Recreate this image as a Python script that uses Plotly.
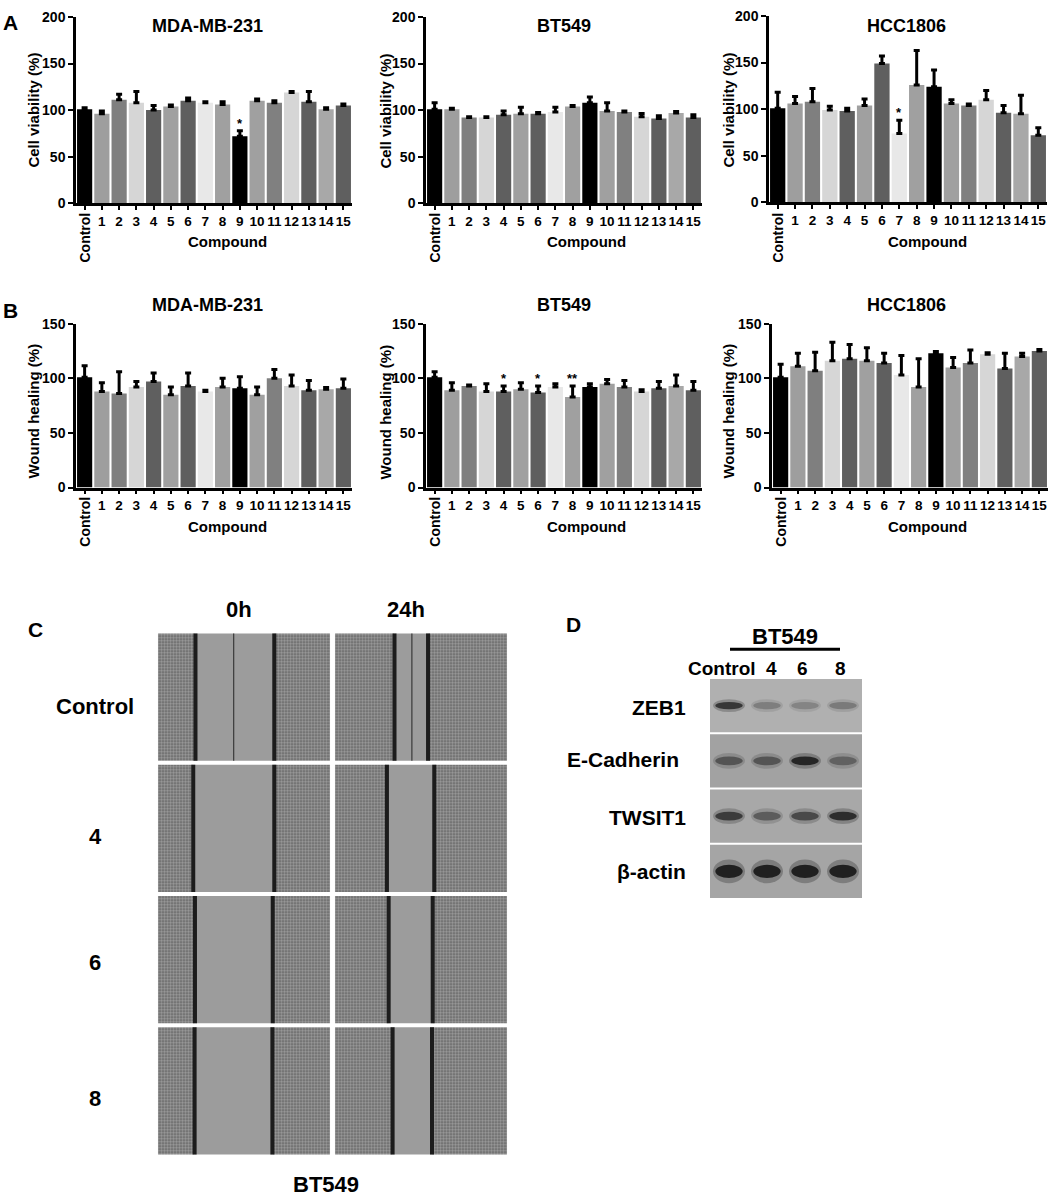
import plotly.graph_objects as go

# ------------------ Data ------------------

compounds = ["Control", "1", "2", "3", "4", "5", "6", "7", "8", "9",
             "10", "11", "12", "13", "14", "15"]
cell_lines = ["MDA-MB-231", "BT549", "HCC1806"]

# panel A: cell viability (%)
via_mda = [101, 96, 111, 108, 100, 104, 110, 108, 106, 72, 110, 108, 119, 109, 101, 105]
via_mda_err = [1.5, 3, 6, 12, 5, 1.5, 3, 1, 3, 6, 2, 2, 1, 11, 1.5, 1.5]
via_bt = [101, 101, 92, 92, 95, 96, 96, 98, 104, 108, 99, 98, 93, 91, 97, 92]
via_bt_err = [7, 1, 1, 1, 4, 7, 1.5, 5, 1, 6, 9, 1, 3.5, 3, 1.5, 3]
via_hcc = [101, 106, 108, 99, 98, 104, 149, 74, 126, 124, 106, 104, 110, 96, 95, 72]
via_hcc_err = [17, 7.5, 14, 4, 3, 7, 8, 14, 37, 18, 4, 1.5, 10, 8, 20, 8]

# panel B: wound healing (%)
wound_mda = [101, 88, 86, 92, 97, 85, 93, 88, 92, 91, 85, 100, 93, 89, 90, 91]
wound_mda_err = [10.5, 8, 20, 5, 8, 7, 12, 1, 8, 10.5, 7, 8, 10, 9, 1.5, 8.5]
wound_bt = [101, 89, 93, 88, 88, 90, 87, 92, 83, 92, 95, 92, 88, 91, 93, 89]
wound_bt_err = [5, 7, 1, 7, 5, 6, 6, 3, 10, 3, 4, 6, 1.5, 6, 10, 8]
wound_hcc = [101, 111, 107, 116, 118, 116, 114, 103, 92, 123, 110, 114, 122, 109, 120, 125]
wound_hcc_err = [12, 12, 17, 17, 13, 12, 9, 18, 26, 1.5, 9, 12, 1.5, 14, 3, 1.5]

# significance marks: (chart, compound index, mark)
stars = [(0, 9, "*"), (2, 7, "*"), (4, 4, "*"), (4, 6, "*"), (4, 8, "**")]

# panel C: scratch edges as fraction of image width
scratch_rows = ["Control", "4", "6", "8"]
scratch_times = ["0h", "24h"]
edge_left_0h = [0.218, 0.205, 0.215, 0.213]
edge_right_0h = [0.676, 0.676, 0.667, 0.665]
edge_left_24h = [0.346, 0.302, 0.312, 0.335]
edge_right_24h = [0.541, 0.577, 0.568, 0.564]
mark_0h = [0.44, None, None, None]
mark_24h = [0.447, None, None, None]

# panel D: western blot band intensity (0 = none, 1 = saturated)
blot_lanes = ["Control", "4", "6", "8"]
blot_proteins = ["ZEB1", "E-Cadherin", "TWSIT1", "β-actin"]
band_zeb1 = [0.85, 0.35, 0.3, 0.38]
band_ecad = [0.6, 0.6, 0.95, 0.5]
band_twist = [0.8, 0.55, 0.7, 0.9]
band_actin = [1.0, 1.0, 1.0, 1.0]

# ------------------ Styles / layout helpers ------------------

W, H = 1052, 1203
FONT = "Arial, Liberation Sans, sans-serif"
bar_colors = ["#000000", "#9e9e9e", "#7f7f7f", "#d6d6d6", "#5f5f5f", "#a0a0a0",
              "#5f5f5f", "#e8e8e8", "#a0a0a0", "#000000", "#a0a0a0", "#808080",
              "#d6d6d6", "#5f5f5f", "#a8a8a8", "#5f5f5f"]
strip_bg = [176, 162, 168, 165]
band_half_h = [0.065, 0.08, 0.08, 0.12]


def fx(p):
    return p / W


def fy(p):
    return 1 - p / H


def bold(size, color="black"):
    return dict(family=FONT, size=size, color=color, weight="bold")


def note(text, x, y, size, xanchor="center", **kw):
    return dict(text=text, x=fx(x), y=fy(y), xref="paper", yref="paper",
                showarrow=False, font=bold(size), xanchor=xanchor,
                yanchor="middle", **kw)


fig = go.Figure()
annotations = []
shapes = []
layout_axes = {}

# ------------------ Panels A and B: bar charts ------------------

values = [via_mda, via_bt, via_hcc, wound_mda, wound_bt, wound_hcc]
errors = [via_mda_err, via_bt_err, via_hcc_err, wound_mda_err, wound_bt_err, wound_hcc_err]
frames = [(76, 352, 9, 198), (426, 702, 9, 198), (769, 1047, 8, 197),
          (76, 352, 320, 486), (426, 702, 320, 486), (772, 1048, 320, 486)]
ytitles = ["Cell viability (%)", "Wound healing (%)"]
ymax = [200, 150]
title_x = [207, 564, 906]
title_y = [18, 301]
ytitle_x = [34, 386, 729]
ytitle_y = [104, 409]
comp_x = [227, 586, 927]
comp_y = [237, 525]
ctrl_y = [233, 521]

for k in range(6):
    row, col = k // 3, k % 3
    n = "" if k == 0 else str(k + 1)
    xa, ya = "x" + n, "y" + n
    left, right, top, bottom = frames[k]
    fig.add_trace(go.Bar(
        x=list(range(len(compounds))), y=values[k], width=0.88,
        marker=dict(color=bar_colors, line=dict(width=0)),
        error_y=dict(type="data", array=errors[k], arrayminus=[0] * len(errors[k]),
                     symmetric=False, color="black", thickness=3, width=3),
        xaxis=xa, yaxis=ya, showlegend=False))
    layout_axes["xaxis" + n] = dict(
        domain=[fx(left), fx(right)], range=[-0.5, 15.5], anchor=ya,
        tickvals=list(range(len(compounds))), ticktext=[""] + compounds[1:],
        tickangle=0, ticks="outside", ticklen=4, tickwidth=2, tickcolor="black",
        showline=True, linecolor="black", linewidth=2.5, showgrid=False,
        zeroline=False, tickfont=bold(13.5), fixedrange=True)
    layout_axes["yaxis" + n] = dict(
        domain=[fy(bottom), fy(top)], range=[0, ymax[row]], dtick=50, anchor=xa,
        ticks="outside", ticklen=5, tickwidth=2, tickcolor="black",
        showline=True, linecolor="black", linewidth=2.5, showgrid=False,
        zeroline=False, tickfont=bold(14), fixedrange=True)
    annotations.append(note(cell_lines[col], title_x[col], title_y[row], 18))
    annotations.append(note(ytitles[row], ytitle_x[col], ytitle_y[row], 15, textangle=-90))
    annotations.append(note("Compound", comp_x[col], comp_y[row], 15))
    annotations.append(dict(text="Control", x=0, xref=xa, y=fy(ctrl_y[row]), yref="paper",
                            showarrow=False, font=bold(14), textangle=-90,
                            xanchor="center", yanchor="middle"))

for chart, idx, mark in stars:
    n = "" if chart == 0 else str(chart + 1)
    annotations.append(dict(text=mark, x=idx, y=values[chart][idx] + errors[chart][idx],
                            xref="x" + n, yref="y" + n, showarrow=False,
                            font=bold(13), yanchor="bottom", yshift=-2))

annotations.append(note("A", 10, 15, 21))
annotations.append(note("B", 10, 307, 21))

# ------------------ Panel C: scratch assay images ------------------

g = 0.014
cells_y, cells_base, cells_len = [], [], []
gap_y, gap_base, gap_len = [], [], []
line_x, line_y, mark_x, mark_y = [], [], [], []
edges = [(edge_left_0h, edge_right_0h, mark_0h), (edge_left_24h, edge_right_24h, mark_24h)]
for c, (lefts, rights, marks) in enumerate(edges):
    x0 = c + g
    span = 1 - 2 * g
    for r in range(len(scratch_rows)):
        L = x0 + lefts[r] * span
        R = x0 + rights[r] * span
        cells_y += [r, r]
        cells_base += [x0, R]
        cells_len += [L - x0, x0 + span - R]
        gap_y.append(r)
        gap_base.append(L)
        gap_len.append(R - L)
        for e in (L, R):
            line_x += [e, e, None]
            line_y += [r - 0.485, r + 0.485, None]
        if marks[r] is not None:
            m = x0 + marks[r] * span
            mark_x += [m, m, None]
            mark_y += [r - 0.485, r + 0.485, None]

fig.add_trace(go.Bar(y=cells_y, x=cells_len, base=cells_base, orientation="h", width=0.97,
                     marker=dict(color="#979797", line=dict(width=0),
                                 pattern=dict(shape=".", fgcolor="#505050", bgcolor="#9a9a9a",
                                              size=3, solidity=0.3, fillmode="replace")),
                     xaxis="x7", yaxis="y7", showlegend=False, hoverinfo="skip"))
fig.add_trace(go.Bar(y=gap_y, x=gap_len, base=gap_base, orientation="h", width=0.97,
                     marker=dict(color="#9c9c9c", line=dict(width=0)),
                     xaxis="x7", yaxis="y7", showlegend=False, hoverinfo="skip"))
fig.add_trace(go.Scatter(x=line_x, y=line_y, mode="lines", line=dict(color="#1c1c1c", width=4),
                         xaxis="x7", yaxis="y7", showlegend=False, hoverinfo="skip"))
fig.add_trace(go.Scatter(x=mark_x, y=mark_y, mode="lines", line=dict(color="#3a3a3a", width=1.2),
                         xaxis="x7", yaxis="y7", showlegend=False, hoverinfo="skip"))
layout_axes["xaxis7"] = dict(domain=[fx(155.5), fx(509.5)], range=[0, 2], anchor="y7",
                             visible=False, fixedrange=True)
layout_axes["yaxis7"] = dict(domain=[fy(1164), fy(632)], range=[4 - 0.5, -0.5], anchor="x7",
                             visible=False, fixedrange=True)

annotations.append(note("C", 35, 630, 21))
for c, t in enumerate(scratch_times):
    annotations.append(note(t, [239, 406][c], 610, 22))
for r, lab in enumerate(scratch_rows):
    annotations.append(note(lab, 95, [708, 840, 967, 1105][r], 22))
annotations.append(note("BT549", 326, 1192, 22))

# ------------------ Panel D: western blot ------------------

bands = [band_zeb1, band_ecad, band_twist, band_actin]
fig.add_trace(go.Bar(y=list(range(len(blot_proteins))), x=[len(blot_lanes)] * len(blot_proteins),
                     base=-0.5, orientation="h", width=0.964,
                     marker=dict(color=[f"rgb({v},{v},{v})" for v in strip_bg], line=dict(width=0)),
                     xaxis="x8", yaxis="y8", showlegend=False, hoverinfo="skip"))
layout_axes["xaxis8"] = dict(domain=[fx(710), fx(862)], range=[-0.5, 3.5], anchor="y8",
                             visible=False, fixedrange=True)
layout_axes["yaxis8"] = dict(domain=[fy(903), fy(679)], range=[3.5, -0.5], anchor="x8",
                             visible=False, fixedrange=True)

for p, row in enumerate(bands):
    bg = strip_bg[p]
    hh = band_half_h[p]
    for lane, inten in enumerate(row):
        halo = int(bg - 0.45 * inten * (bg - 40))
        core = int(bg - inten * (bg - 22))
        shapes.append(dict(type="circle", xref="x8", yref="y8", layer="above",
                           x0=lane - 0.42, x1=lane + 0.42, y0=p - hh * 1.8, y1=p + hh * 1.8,
                           fillcolor=f"rgb({halo},{halo},{halo})", line=dict(width=0), opacity=0.7))
        shapes.append(dict(type="circle", xref="x8", yref="y8", layer="above",
                           x0=lane - 0.36, x1=lane + 0.36, y0=p - hh, y1=p + hh,
                           fillcolor=f"rgb({core},{core},{core})", line=dict(width=0),
                           opacity=0.9))

annotations.append(note("D", 573, 625, 21))
annotations.append(note("BT549", 785, 637, 22))
shapes.append(dict(type="line", xref="paper", yref="paper", x0=fx(730), x1=fx(840),
                   y0=fy(650), y1=fy(650), line=dict(color="black", width=3)))
for lane, lab in enumerate(blot_lanes):
    annotations.append(note(lab, [722, 771, 802, 840][lane], 669, 19))
for p, lab in enumerate(blot_proteins):
    annotations.append(note(lab, [688, 681, 688, 688][p], [709, 762, 820, 875][p], 21,
                            xanchor="right"))

# ------------------ Layout ------------------

fig.update_layout(
    width=W, height=H, margin=dict(l=0, r=0, t=0, b=0),
    paper_bgcolor="white", plot_bgcolor="white", barmode="overlay",
    font=dict(family=FONT, color="black"),
    annotations=annotations, shapes=shapes, **layout_axes)

# page body margin off so the figure sits at the window origin
fig.write_html("out.html", config={"displayModeBar": False},
               post_script="document.body.style.margin='0';document.body.style.overflow='hidden';")
